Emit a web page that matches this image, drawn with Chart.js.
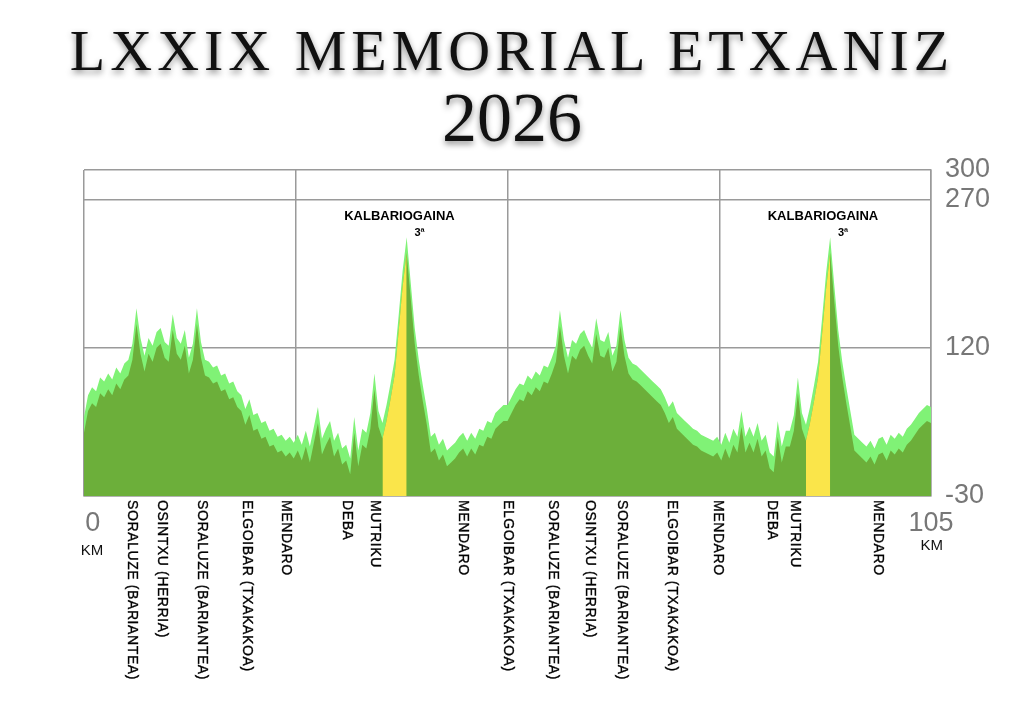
<!DOCTYPE html>
<html>
<head>
<meta charset="utf-8">
<script src="https://cdn.jsdelivr.net/npm/chart.js@4.4.0/dist/chart.umd.min.js"></script>
<style>
  html, body { margin: 0; padding: 0; background: #fff; }
  #wrap { position: relative; width: 1024px; height: 710px; overflow: hidden; }
  #wrap canvas { position: absolute; left: 0; top: 0; }
  .ttl { position: absolute; left: 0; width: 1024px; text-align: center; color: #111;
         font-family: "Liberation Serif", "DejaVu Serif", serif; white-space: nowrap;
         text-shadow: 0 3px 6px rgba(0,0,0,0.45); }
  #t1 { top: 16px; font-size: 58px; letter-spacing: 5px; line-height: 70px; }
  #t2 { top: 80px; font-size: 70px; line-height: 76px; }
</style>
</head>
<body>
<div id="wrap">
  <canvas id="profile" width="1024" height="710"></canvas>
  <div class="ttl" id="t1">LXXIX MEMORIAL ETXANIZ</div>
  <div class="ttl" id="t2">2026</div>
</div>
<script>
// elevation (m), one value every 0.5 km
const STEP = 0.5;
// km 0 .. 52
const elevLoop1 = [50, 72, 80, 76, 90, 86, 94, 88, 100, 94,
  104, 108, 124, 160, 130, 112, 130, 122, 136, 140,
  126, 122, 154, 130, 124, 138, 110, 124, 160, 126,
  108, 106, 100, 102, 92, 94, 84, 86, 76, 72,
  58, 68, 52, 54, 44, 46, 36, 38, 30, 32,
  26, 30, 24, 32, 22, 36, 20, 40, 60, 28,
  38, 46, 26, 34, 18, 22, 8, 50, 16, 38,
  34, 54, 94, 56, 44, 62, 84, 108, 152, 198,
  232, 186, 140, 108, 82, 58, 30, 34, 22, 28,
  16, 20, 24, 30, 34, 26, 34, 28, 38, 36,
  46, 44, 54, 58, 62];
// km 52.5 .. 105
const elevLoop2 = [62, 70, 78, 84, 82, 92, 88, 96, 92, 102,
  100, 110, 122, 158, 128, 110, 128, 124, 134, 138,
  128, 120, 150, 128, 126, 136, 112, 122, 158, 128,
  110, 104, 102, 98, 94, 90, 86, 82, 78, 70,
  60, 66, 54, 50, 46, 42, 38, 36, 32, 30,
  28, 26, 30, 22, 34, 24, 38, 30, 56, 30,
  40, 30, 44, 26, 32, 14, 10, 46, 20, 36,
  36, 52, 90, 54, 42, 60, 82, 106, 150, 196,
  232, 184, 138, 106, 80, 56, 32, 28, 24, 20,
  26, 18, 28, 30, 22, 32, 28, 34, 30, 38,
  42, 48, 54, 58, 62, 60];

const climbs = [[37, 40], [89.5, 92.5]];              // km ranges painted yellow
const summits = [{ name: 'KALBARIOGAINA', cat: '3ª', km: 40 }, { name: 'KALBARIOGAINA', cat: '3ª', km: 92.5 }];
const placeNames = ['SORALUZE (BARIANTEA)', 'OSINTXU (HERRIA)', 'SORALUZE (BARIANTEA)', 'ELGOIBAR (TXAKAKOA)', 'MENDARO',
  'DEBA', 'MUTRIKU', 'MENDARO', 'ELGOIBAR (TXAKAKOA)', 'SORALUZE (BARIANTEA)', 'OSINTXU (HERRIA)',
  'SORALUZE (BARIANTEA)', 'ELGOIBAR (TXAKAKOA)', 'MENDARO', 'DEBA', 'MUTRIKU', 'MENDARO'];
const placeKm = [5.95, 9.7, 14.6, 20.2, 25.0, 32.6, 36.1, 47.0, 52.6, 58.1, 62.7, 66.7, 72.9, 78.6, 85.3, 88.1, 98.4];
const yTicks = [-30, 120, 270, 300];
const xGrid = [0, 26.25, 52.5, 78.75, 105];
const BAND = 16;   // the dark fill sits this many metres under the light green edge

const elev = elevLoop1.concat(elevLoop2);
const points = elev.map((v, i) => ({ x: i * STEP, y: v }));
const climbPoints = points.map(p => climbs.some(c => p.x >= c[0] && p.x <= c[1]) ? p : { x: p.x, y: null });

const labelsPlugin = {
  id: 'profileLabels',
  afterDraw(chart) {
    const ctx = chart.ctx;
    const xs = chart.scales.x, ys = chart.scales.y;
    const base = chart.chartArea.bottom;
    ctx.save();
    // place names, rotated
    ctx.fillStyle = '#000';
    ctx.strokeStyle = '#000';
    ctx.lineWidth = 0.35;
    ctx.font = '14px "Liberation Sans", Arial, sans-serif';
    ctx.letterSpacing = '0.6px';
    ctx.textAlign = 'left';
    ctx.textBaseline = 'middle';
    placeNames.forEach((n, i) => {
      ctx.save();
      ctx.translate(xs.getPixelForValue(placeKm[i]), base + 4);
      ctx.rotate(Math.PI / 2);
      ctx.fillText(n, 0, 0);
      ctx.strokeText(n, 0, 0);
      ctx.restore();
    });
    ctx.letterSpacing = '0px';
    // summits
    summits.forEach(s => {
      ctx.font = 'bold 13px "Liberation Sans", Arial, sans-serif';
      ctx.textAlign = 'center';
      ctx.fillText(s.name, xs.getPixelForValue(s.km - 0.9), ys.getPixelForValue(253));
      ctx.font = 'bold 11px "Liberation Sans", Arial, sans-serif';
      ctx.fillText(s.cat, xs.getPixelForValue(s.km + 1.6), ys.getPixelForValue(236));
    });
    // km labels
    ctx.textAlign = 'center';
    ctx.fillStyle = '#777';
    ctx.font = '27px "Liberation Sans", Arial, sans-serif';
    ctx.fillText('0', xs.getPixelForValue(1.1), base + 28);
    ctx.fillText('105', xs.getPixelForValue(105), base + 28);
    ctx.fillStyle = '#111';
    ctx.font = '15px "Liberation Sans", Arial, sans-serif';
    ctx.fillText('KM', xs.getPixelForValue(1.0), base + 55);
    ctx.fillText('KM', xs.getPixelForValue(105.1), base + 50);
    ctx.restore();
  }
};

new Chart(document.getElementById('profile'), {
  type: 'line',
  data: {
    datasets: [
      { data: climbPoints, yAxisID: 'yLow', borderWidth: 0, backgroundColor: '#fae54a', fill: 'start',
        pointRadius: 0, spanGaps: false },
      { data: points, yAxisID: 'yLow', borderWidth: 0, backgroundColor: '#6caf3a', fill: 'start', pointRadius: 0 },
      { data: points, borderWidth: 0, backgroundColor: '#80f276', fill: 'start', pointRadius: 0 }
    ]
  },
  options: {
    responsive: false,
    animation: false,
    layout: { padding: { left: 84, top: 170, right: 0, bottom: 214 } },
    plugins: { legend: { display: false }, tooltip: { enabled: false } },
    scales: {
      x: {
        type: 'linear', min: 0, max: 105,
        afterBuildTicks: s => { s.ticks = xGrid.map(v => ({ value: v })); },
        afterFit: s => { s.height = 0; },
        ticks: { display: false },
        grid: { color: '#9a9a9a', lineWidth: 1.5, drawTicks: false },
        border: { color: '#9a9a9a', width: 1.5 }
      },
      y: {
        position: 'right', min: -30, max: 300,
        afterBuildTicks: s => { s.ticks = yTicks.map(v => ({ value: v })); },
        afterFit: s => { s.width = 93; },
        ticks: { color: '#777', padding: 14, font: { size: 27, family: '"Liberation Sans", Arial, sans-serif' } },
        grid: { color: '#9a9a9a', lineWidth: 1.5, drawTicks: false },
        border: { color: '#9a9a9a', width: 1.5 }
      },
      yLow: {
        position: 'right', display: false, min: -30 + BAND, max: 300 + BAND
      }
    }
  },
  plugins: [labelsPlugin]
});
</script>
</body>
</html>
